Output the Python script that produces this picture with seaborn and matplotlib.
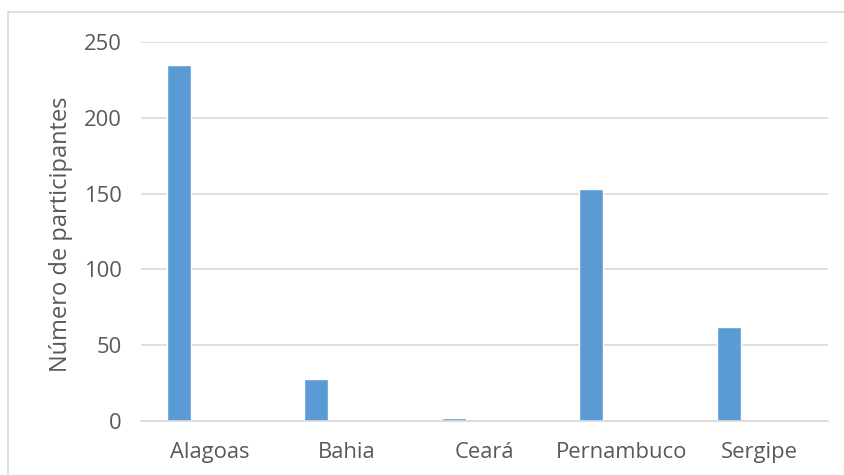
import matplotlib
matplotlib.use('Agg')
import matplotlib.pyplot as plt
from matplotlib.lines import Line2D
import seaborn as sns
import pandas as pd

# --- dados ---
estados = ['Alagoas', 'Bahia', 'Ceará', 'Pernambuco', 'Sergipe']
participantes = [235, 28, 2, 153, 62]
yticks = [0, 50, 100, 150, 200, 250]

df = pd.DataFrame({'Estado': estados, 'Participantes': participantes})

sns.set_style('white')
plt.rcParams['font.family'] = ['Open Sans', 'DejaVu Sans']

fig = plt.figure(figsize=(8.44, 4.75), dpi=100)
ax = fig.add_axes([0.167, 0.1137, 0.814, 0.7979])

sns.barplot(data=df, x='Estado', y='Participantes', color='#5B9BD5',
            width=0.175, saturation=1, ax=ax)

# barras deslocadas para a esquerda, como no Excel
for p in ax.patches:
    p.set_x(p.get_x() - 0.223)

ax.set_ylim(0, 250)
ax.set_xlim(-0.5, len(estados) - 0.5)
ax.set_yticks(yticks)
ax.yaxis.grid(True, color='#D9D9D9', linewidth=1.2)
ax.set_axisbelow(True)
for s in ['top', 'right', 'left']:
    ax.spines[s].set_visible(False)
ax.spines['bottom'].set_color('#D9D9D9')
ax.spines['bottom'].set_linewidth(1.2)

ax.tick_params(axis='both', length=0, labelsize=15.8, labelcolor='#595959')
ax.tick_params(axis='y', pad=14)
ax.tick_params(axis='x', pad=15)
ax.set_xlabel('')
ax.set_ylabel('')

# título do eixo y posicionado na figura
fig.text(61 / 844, 1 - 234 / 475, 'Número de participantes', rotation=90,
         ha='center', va='center', fontsize=17, color='#595959')

# moldura do gráfico (só esquerda e topo aparecem)
fig.add_artist(Line2D([8 / 844, 8 / 844], [0, 1 - 12 / 475], color='#D9D9D9', lw=1.2))
fig.add_artist(Line2D([8 / 844, 1], [1 - 12 / 475, 1 - 12 / 475], color='#D9D9D9', lw=1.2))

fig.savefig('out.png', dpi=100, facecolor='white')
